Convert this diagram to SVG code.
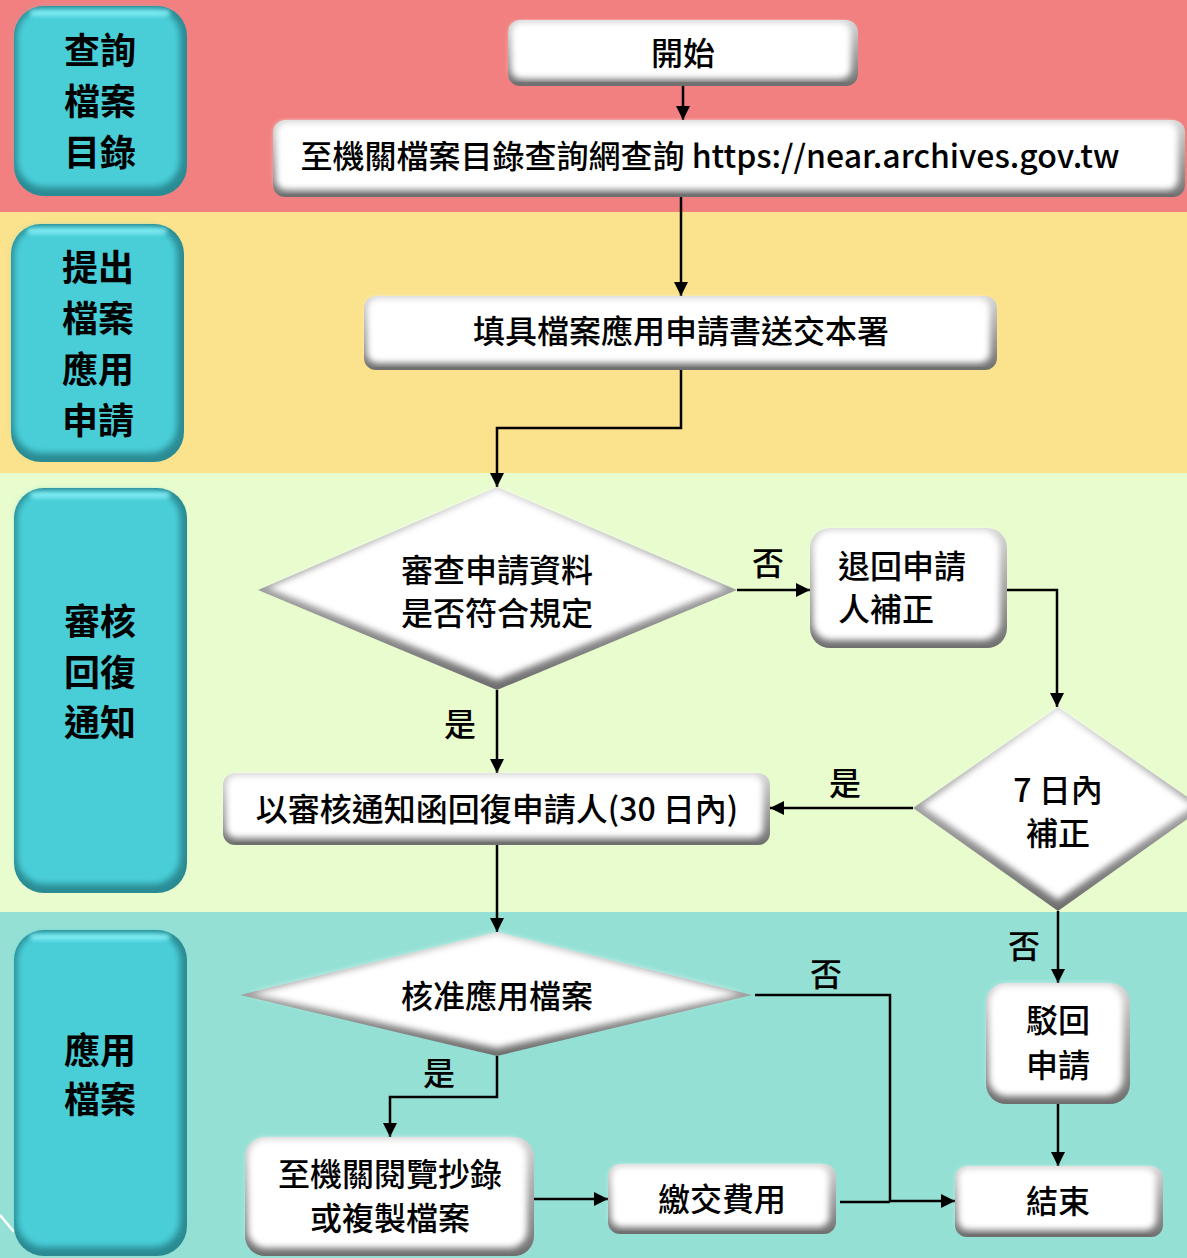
<svg xmlns="http://www.w3.org/2000/svg" width="1187" height="1258" viewBox="0 0 1187 1258">
<defs>
<style>
.t{font-family:"Noto Sans CJK TC","Noto Sans",sans-serif;font-weight:500;fill:#000;text-anchor:middle;dominant-baseline:central}
.s{font-size:36px;font-weight:700}
.m{font-size:32px}
.l{stroke:#000;stroke-width:2.5;fill:none}
.a{marker-end:url(#ah)}
.bo{fill:url(#gray)}
.bi{fill:#fff;filter:url(#sf)}
.so{fill:#2a8b93}
.si{fill:#48ced8;filter:url(#sf)}
.hl{fill:#8ff6fb;filter:url(#sf2);opacity:0.8}
</style>
<linearGradient id="gray" x1="0" y1="0" x2="0" y2="1">
<stop offset="0" stop-color="#d6d6d6"/>
<stop offset="1" stop-color="#6e6e6e"/>
</linearGradient>
<filter id="sf" x="-5%" y="-5%" width="110%" height="110%"><feGaussianBlur stdDeviation="3"/></filter>
<filter id="sf2" x="-5%" y="-50%" width="110%" height="200%"><feGaussianBlur stdDeviation="2"/></filter>
<marker id="ah" markerWidth="14" markerHeight="14" viewBox="0 0 14 14" refX="14" refY="7" orient="auto" markerUnits="userSpaceOnUse">
<path d="M0,0 L14,7 L0,14 z" fill="#000"/>
</marker>
</defs>

<g id="bands">
<rect x="0" y="0" width="1187" height="212" fill="#f28080"/>
<rect x="0" y="212" width="1187" height="261" fill="#fbe28c"/>
<rect x="0" y="473" width="1187" height="439" fill="#e8fcce"/>
<rect x="0" y="912" width="1187" height="346" fill="#94e0d4"/>
<line x1="0" y1="1215" x2="14" y2="1232" stroke="#fff" stroke-width="2.5"/>
</g>

<g id="lane1">
<rect class="so" x="14" y="6" width="173" height="190" rx="30"/>
<rect class="si" x="17" y="9" width="163" height="178" rx="27"/>
<rect class="hl" x="30" y="10" width="140" height="6" rx="3"/>
<text class="t s" x="100" y="48">查詢</text>
<text class="t s" x="100" y="99">檔案</text>
<text class="t s" x="100" y="150">目錄</text>
</g>
<g id="lane2">
<rect class="so" x="11" y="224" width="173" height="238" rx="30"/>
<rect class="si" x="14" y="227" width="163" height="226" rx="27"/>
<rect class="hl" x="27" y="228" width="140" height="6" rx="3"/>
<text class="t s" x="98" y="265">提出</text>
<text class="t s" x="98" y="316">檔案</text>
<text class="t s" x="98" y="367">應用</text>
<text class="t s" x="98" y="418">申請</text>
</g>
<g id="lane3">
<rect class="so" x="14" y="488" width="173" height="405" rx="30"/>
<rect class="si" x="17" y="491" width="163" height="393" rx="27"/>
<rect class="hl" x="30" y="492" width="140" height="6" rx="3"/>
<text class="t s" x="100" y="619">審核</text>
<text class="t s" x="100" y="670">回復</text>
<text class="t s" x="100" y="720">通知</text>
</g>
<g id="lane4">
<rect class="so" x="14" y="930" width="173" height="326" rx="30"/>
<rect class="si" x="17" y="933" width="163" height="314" rx="27"/>
<rect class="hl" x="30" y="934" width="140" height="6" rx="3"/>
<text class="t s" x="100" y="1048">應用</text>
<text class="t s" x="100" y="1097">檔案</text>
</g>

<g id="connectors">
<path class="l a" d="M683,86 V120"/>
<path class="l a" d="M681,197 V296"/>
<path class="l a" d="M681,370 V428 H497 V487"/>
<path class="l a" d="M737,590 H810"/>
<path class="l a" d="M1007,590 H1057 V707"/>
<path class="l a" d="M497,690 V773"/>
<path class="l a" d="M913,808 H770"/>
<path class="l a" d="M497,845 V932"/>
<path class="l a" d="M1058,911 V983"/>
<path class="l a" d="M755,995 H890 V1201 H955"/>
<path class="l a" d="M497,1056 V1097 H390 V1137"/>
<path class="l a" d="M534,1199 H608"/>
<path class="l" d="M840,1202 H890"/>
<path class="l a" d="M1058,1104 V1166"/>
<text class="t m" x="768" y="561">否</text>
<text class="t m" x="460" y="722">是</text>
<text class="t m" x="845" y="781">是</text>
<text class="t m" x="1024" y="944">否</text>
<text class="t m" x="826" y="972">否</text>
<text class="t m" x="439" y="1071">是</text>
</g>

<g id="start">
<rect class="bo" x="508" y="20" width="350" height="66" rx="12"/>
<rect class="bi" x="511" y="22" width="340" height="57" rx="10"/>
<text class="t m" x="683" y="51">開始</text>
</g>
<g id="url">
<rect class="bo" x="273" y="120" width="912" height="77" rx="12"/>
<rect class="bi" x="276" y="122" width="902" height="68" rx="10"/>
<text class="t m" x="710" y="154">至機關檔案目錄查詢網查詢 https://near.archives.gov.tw</text>
</g>
<g id="apply">
<rect class="bo" x="364" y="296" width="633" height="74" rx="12"/>
<rect class="bi" x="367" y="298" width="623" height="65" rx="10"/>
<text class="t m" x="681" y="329">填具檔案應用申請書送交本署</text>
</g>
<g id="check">
<polygon points="497,487 737,590 497,690 258,590" fill="url(#gray)"/>
<polygon class="bi" points="497,489 726,588 497,680 268,588"/>
<text class="t m" x="497" y="568">審查申請資料</text>
<text class="t m" x="497" y="611">是否符合規定</text>
</g>
<g id="return">
<rect class="bo" x="810" y="528" width="197" height="120" rx="20"/>
<rect class="bi" x="813" y="530" width="187" height="110" rx="18"/>
<text class="t m" x="838" y="564" style="text-anchor:start">退回申請</text>
<text class="t m" x="838" y="607" style="text-anchor:start">人補正</text>
</g>
<g id="within7">
<polygon points="1058,707 1203,808 1058,911 913,808" fill="url(#gray)"/>
<polygon class="bi" points="1058,709 1194,806 1058,900 922,806"/>
<text class="t m" x="1058" y="788">7 日內</text>
<text class="t m" x="1058" y="831">補正</text>
</g>
<g id="notify">
<rect class="bo" x="223" y="773" width="547" height="72" rx="12"/>
<rect class="bi" x="226" y="775" width="537" height="63" rx="10"/>
<text class="t m" x="497" y="807">以審核通知函回復申請人(30 日內)</text>
</g>
<g id="approve">
<polygon points="497,932 752,995 497,1056 240,995" fill="url(#gray)"/>
<polygon class="bi" points="497,934 740,994 497,1048 252,994"/>
<text class="t m" x="497" y="994">核准應用檔案</text>
</g>
<g id="reject">
<rect class="bo" x="986" y="983" width="144" height="121" rx="20"/>
<rect class="bi" x="989" y="985" width="134" height="111" rx="18"/>
<text class="t m" x="1058" y="1018">駁回</text>
<text class="t m" x="1058" y="1063">申請</text>
</g>
<g id="read">
<rect class="bo" x="245" y="1137" width="289" height="119" rx="20"/>
<rect class="bi" x="248" y="1139" width="279" height="109" rx="18"/>
<text class="t m" x="390" y="1172">至機關閱覽抄錄</text>
<text class="t m" x="390" y="1216">或複製檔案</text>
</g>
<g id="pay">
<rect class="bo" x="608" y="1164" width="228" height="70" rx="12"/>
<rect class="bi" x="611" y="1166" width="218" height="61" rx="10"/>
<text class="t m" x="722" y="1197">繳交費用</text>
</g>
<g id="end">
<rect class="bo" x="955" y="1166" width="208" height="71" rx="12"/>
<rect class="bi" x="958" y="1168" width="198" height="62" rx="10"/>
<text class="t m" x="1058" y="1199">結束</text>
</g>
</svg>
